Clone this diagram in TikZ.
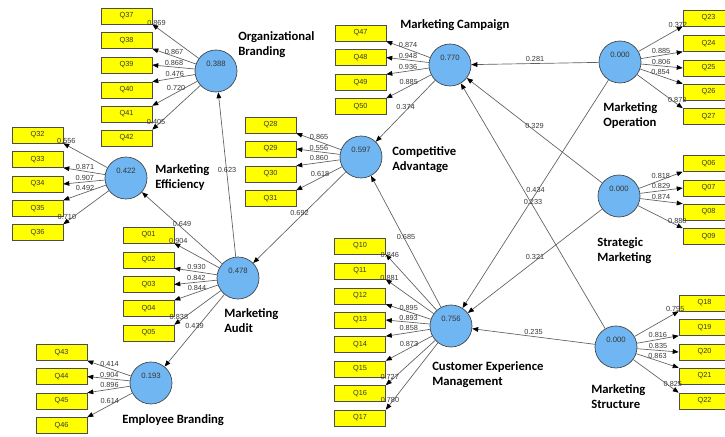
\documentclass[tikz,border=0pt]{standalone}
\usepackage{fontspec}
\setmainfont{Liberation Sans}
\newfontfamily\titlefont{Carlito}
\usetikzlibrary{arrows.meta}

\definecolor{lvblue}{RGB}{112,182,242}
\definecolor{indyellow}{RGB}{255,255,0}
\definecolor{linegray}{RGB}{95,95,95}
\definecolor{numgray}{RGB}{55,55,55}

\begin{document}
\begin{tikzpicture}[%
        x = 0.75pt, y = -0.75pt,
        font = \fontsize{5.5}{6}\selectfont,
        > = {Triangle[length=4.5pt, width=3.5pt, color=black]},
        lvar/.style = {circle, draw = black!75, fill = lvblue, line width = 0.5pt,
            minimum size = 31.5pt, inner sep = 0pt},
        lvval/.style = {yshift = 5.25pt, inner sep = 0pt,
            font = \fontsize{5.8}{7}\selectfont, text = numgray},
        indbox/.style = {rectangle, draw = black!70, fill = indyellow, line width = 0.4pt,
            minimum width = 38.25pt, minimum height = 12pt, inner sep = 0pt, text = numgray},
        lvtitle/.style = {anchor = north west, align = left, inner sep = 0pt,
            font = \titlefont\bfseries\fontsize{9.5}{11.25}\selectfont},
        conn/.style = {->, draw = linegray, line width = 0.5pt},
        coefl/.style = {anchor = south, inner sep = 1pt, text = numgray}
    ]

        \clip (0, 0) rectangle (725, 436);

        % Latent variables with their R-squared values.
        \node[lvar, label = {[lvval]center:0.388}] (OB) at (216, 71) {};
        \node[lvar, label = {[lvval]center:0.422}] (ME) at (126, 178) {};
        \node[lvar, label = {[lvval]center:0.478}] (MA) at (238, 278) {};
        \node[lvar, label = {[lvval]center:0.193}] (EB) at (151, 383) {};
        \node[lvar, label = {[lvval]center:0.597}] (CA) at (361, 157) {};
        \node[lvar, label = {[lvval]center:0.770}] (MC) at (450, 65) {};
        \node[lvar, label = {[lvval]center:0.000}] (MO) at (620, 62) {};
        \node[lvar, label = {[lvval]center:0.000}] (SM) at (619, 196) {};
        \node[lvar, label = {[lvval]center:0.000}] (MS) at (616, 347) {};
        \node[lvar, label = {[lvval]center:0.756}] (CEM) at (451, 326) {};

        % Names of the constructs.
        \node[lvtitle] (OBt) at (238, 31) {Organizational\\Branding};
        \node[lvtitle] (MEt) at (155, 164) {Marketing\\Efficiency};
        \node[lvtitle] (MAt) at (224, 308) {Marketing\\Audit};
        \node[lvtitle] (EBt) at (122, 414) {Employee Branding};
        \node[lvtitle] (CAt) at (392, 146) {Competitive\\Advantage};
        \node[lvtitle] (MCt) at (400, 19) {Marketing Campaign};
        \node[lvtitle] (MOt) at (603, 102) {Marketing\\Operation};
        \node[lvtitle] (SMt) at (597, 237) {Strategic\\Marketing};
        \node[lvtitle] (MSt) at (591, 384) {Marketing\\Structure};
        \node[lvtitle] (CEMt) at (432, 361) {Customer Experience\\Management};

        % Indicator boxes, one column per construct.
        \foreach \q/\y in {Q37/16, Q38/40.5, Q39/65, Q40/90, Q41/114, Q42/138}
            \node[indbox] (\q) at (126.5, \y) {\q};
        \foreach \q/\y in {Q32/135, Q33/159.5, Q34/184, Q35/208.5, Q36/232.5}
            \node[indbox] (\q) at (37.5, \y) {\q};
        \foreach \q/\y in {Q01/235, Q02/260, Q03/284.5, Q04/308.5, Q05/333}
            \node[indbox] (\q) at (148.5, \y) {\q};
        \foreach \q/\y in {Q43/352.5, Q44/376.5, Q45/401, Q46/425.5}
            \node[indbox] (\q) at (61.5, \y) {\q};
        \foreach \q/\y in {Q28/125, Q29/149, Q30/174, Q31/198.5}
            \node[indbox] (\q) at (270.5, \y) {\q};
        \foreach \q/\y in {Q47/33, Q48/57.5, Q49/82.5, Q50/106.5}
            \node[indbox] (\q) at (360.5, \y) {\q};
        \foreach \q/\y in {Q10/246, Q11/271, Q12/296, Q13/320, Q14/344.5, Q15/369, Q16/393.5, Q17/418}
            \node[indbox] (\q) at (360, \y) {\q};
        \foreach \q/\y in {Q23/18, Q24/43.5, Q25/68, Q26/92, Q27/116.5, Q06/163.5, Q07/188, Q08/212, Q09/236.5}
            \node[indbox] (\q) at (708.5, \y) {\q};
        \foreach \q/\y in {Q18/303, Q19/327.5, Q20/352, Q21/376, Q22/401}
            \node[indbox] (\q) at (704.5, \y) {\q};

        % Outer loadings.
        \foreach \lv/\bx/\an/\v/\p in {%
                OB/Q37/south east/0.869/0.91, OB/Q38/south east/0.867/0.5,
                OB/Q39/east/0.868/0.49, OB/Q40/north east/0.476/0.47,
                OB/Q41/north east/0.720/0.47, OB/Q42/north east/0.405/0.92,
                ME/Q32/south east/0.556/0.93, ME/Q33/south east/0.871/0.48,
                ME/Q34/east/0.907/0.48, ME/Q35/north east/0.492/0.49,
                ME/Q36/north east/0.710/0.92,
                MA/Q01/south east/0.904/0.91, MA/Q02/south east/0.930/0.48,
                MA/Q03/east/0.842/0.48, MA/Q04/north east/0.844/0.48,
                MA/Q05/north east/0.838/0.9,
                EB/Q43/south east/0.414/0.49, EB/Q44/east/0.904/0.48,
                EB/Q45/north east/0.896/0.48, EB/Q46/north east/0.614/0.5,
                CA/Q28/south east/0.865/0.49, CA/Q29/east/0.556/0.48,
                CA/Q30/north east/0.860/0.48, CA/Q31/north east/0.618/0.48,
                MC/Q47/south east/0.874/0.5, MC/Q48/east/0.948/0.49,
                MC/Q49/north east/0.936/0.49, MC/Q50/north east/0.885/0.5,
                CEM/Q10/south east/0.846/0.92, CEM/Q11/south east/0.881/0.92,
                CEM/Q12/south east/0.895/0.49, CEM/Q13/east/0.893/0.48,
                CEM/Q14/north east/0.858/0.48, CEM/Q15/north east/0.873/0.5,
                CEM/Q16/north east/0.727/0.92, CEM/Q17/north east/0.780/0.92,
                MO/Q23/south west/0.372/0.89, MO/Q24/south west/0.885/0.48,
                MO/Q25/west/0.806/0.48, MO/Q26/north west/0.854/0.48,
                MO/Q27/north west/0.873/0.88,
                SM/Q06/south west/0.818/0.5, SM/Q07/west/0.829/0.49,
                SM/Q08/north west/0.874/0.49, SM/Q09/north west/0.880/0.88,
                MS/Q18/south west/0.795/0.92, MS/Q19/south west/0.816/0.5,
                MS/Q20/west/0.835/0.5, MS/Q21/north west/0.863/0.5,
                MS/Q22/north west/0.825/0.87}{
            \draw[conn] (\lv) -- node[coefl, pos = \p] {\v} (\bx.\an);
        }

        % Inner model path coefficients.
        \foreach \a/\b/\v in {%
                MA/OB/0.623, MA/ME/0.649, MA/EB/0.439, CA/MA/0.692,
                MC/CA/0.374, CEM/CA/0.685, MO/MC/0.281, SM/MC/0.329,
                MS/MC/0.233, MO/CEM/0.434, SM/CEM/0.321, MS/CEM/0.235}{
            \draw[conn] (\a) -- node[coefl] {\v} (\b);
        }
    \end{tikzpicture}
\end{document}
